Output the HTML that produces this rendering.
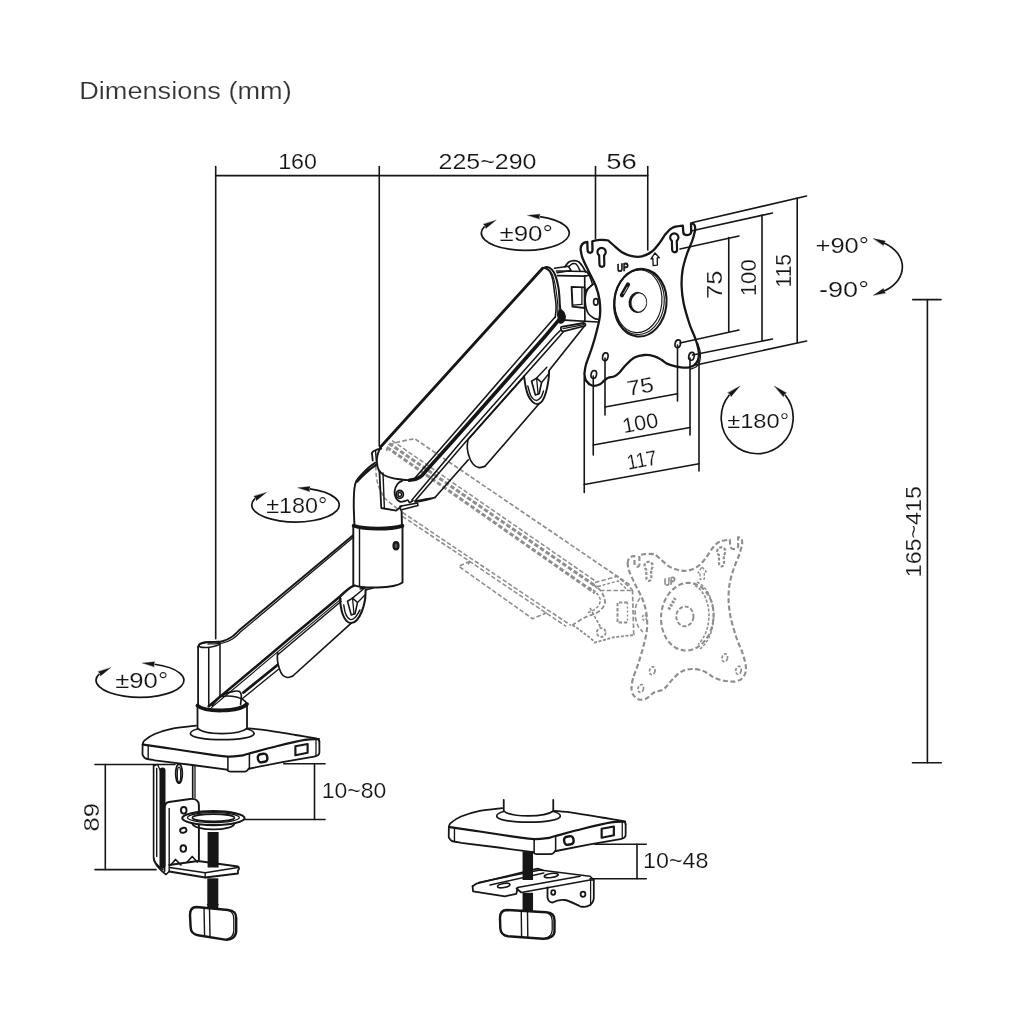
<!DOCTYPE html>
<html><head><meta charset="utf-8"><title>Dimensions (mm)</title>
<style>
html,body{margin:0;padding:0;background:#fff;}
body{width:1024px;height:1024px;overflow:hidden;font-family:"Liberation Sans",sans-serif;}
svg{display:block;will-change:transform;}
svg text{font-family:"Liberation Sans",sans-serif;fill:#141414;stroke:#fff;stroke-width:0.18px;paint-order:fill stroke;}
</style></head><body>
<svg width="1024" height="1024" viewBox="0 0 1024 1024" fill="none" stroke="#161616" stroke-linecap="round" stroke-linejoin="round">
<rect x="0" y="0" width="1024" height="1024" fill="#fff" stroke="none"/>
<g id="dims">
<text x="79.2" y="99" font-size="23.5" text-anchor="start" textLength="212.5" lengthAdjust="spacingAndGlyphs" style="fill:#333">Dimensions (mm)</text>
<path d="M215.6 175.6 L647.75 175.6" stroke-width="1.6" />
<path d="M215.7 166.5 L215.7 638.8" stroke-width="1.6" />
<path d="M379.25 166.5 L379.25 446" stroke-width="1.6" />
<path d="M595.5 166.5 L595.5 238.5" stroke-width="1.6" />
<path d="M647.75 166.5 L647.75 250" stroke-width="1.6" />
<text x="278.2" y="169.3" font-size="22.2" text-anchor="start" textLength="38.8" lengthAdjust="spacingAndGlyphs" >160</text>
<text x="438.5" y="169.3" font-size="22.2" text-anchor="start" textLength="98" lengthAdjust="spacingAndGlyphs" >225~290</text>
<text x="606.3" y="169.3" font-size="22.2" text-anchor="start" textLength="30.5" lengthAdjust="spacingAndGlyphs" >56</text>
<path d="M728.75 237.5 L728.75 331.5" stroke-width="1.6" />
<path d="M762 215 L762 340.5" stroke-width="1.6" />
<path d="M797.2 198 L797.2 342.6" stroke-width="1.6" />
<path d="M680 249 L739 236" stroke-width="1.6" />
<path d="M691 231 L772.5 213" stroke-width="1.6" />
<path d="M692.5 222.5 L806.5 196" stroke-width="1.6" />
<path d="M680 343 L739 330" stroke-width="1.6" />
<path d="M692.5 355 L772.5 339" stroke-width="1.6" />
<path d="M696 365 L806.6 341" stroke-width="1.6" />
<text x="722.3" y="284.7" font-size="22.2" text-anchor="middle" textLength="28.5" lengthAdjust="spacingAndGlyphs" transform="rotate(-90 722.3 284.7)" >75</text>
<text x="756" y="277.75" font-size="22.2" text-anchor="middle" textLength="37" lengthAdjust="spacingAndGlyphs" transform="rotate(-90 756 277.75)" >100</text>
<text x="791" y="270.75" font-size="22.2" text-anchor="middle" textLength="33.5" lengthAdjust="spacingAndGlyphs" transform="rotate(-90 791 270.75)" >115</text>
<path d="M584.25 377 L584.25 492.5" stroke-width="1.6" />
<path d="M593.25 376 L593.25 455" stroke-width="1.6" />
<path d="M605 358 L605 415" stroke-width="1.6" />
<path d="M677.5 345 L677.5 401" stroke-width="1.6" />
<path d="M690 358 L690 435" stroke-width="1.6" />
<path d="M699 360 L699 471" stroke-width="1.6" />
<path d="M605 407 L677.5 393.75" stroke-width="1.6" />
<path d="M593.25 445 L690 427.5" stroke-width="1.6" />
<path d="M584.25 484.5 L699 463.75" stroke-width="1.6" />
<text x="641.5" y="393.5" font-size="21" text-anchor="middle" textLength="27" lengthAdjust="spacingAndGlyphs" transform="rotate(-10.3 641.5 393.5)" >75</text>
<text x="641.5" y="430" font-size="21" text-anchor="middle" textLength="36" lengthAdjust="spacingAndGlyphs" transform="rotate(-10.3 641.5 430)" >100</text>
<text x="643" y="467" font-size="21" text-anchor="middle" textLength="30" lengthAdjust="spacingAndGlyphs" transform="rotate(-10.3 643 467)" >117</text>
<path d="M927.4 299.6 L927.4 762.7" stroke-width="1.6" />
<path d="M912.7 299.6 L941 299.6" stroke-width="1.6" />
<path d="M912.5 762.7 L941.3 762.7" stroke-width="1.6" />
<text x="921.4" y="531.7" font-size="22.2" text-anchor="middle" textLength="91" lengthAdjust="spacingAndGlyphs" transform="rotate(-90 921.4 531.7)" >165~415</text>
<path d="M95 764.5 L175 764.5" stroke-width="1.6" />
<path d="M95 869.6 L156 869.6" stroke-width="1.6" />
<path d="M105.3 764.5 L105.3 869.6" stroke-width="1.6" />
<text x="99" y="817.2" font-size="22.6" text-anchor="middle" textLength="28.5" lengthAdjust="spacingAndGlyphs" transform="rotate(-90 99 817.2)" >89</text>
<path d="M283.75 763.75 L325 763.75" stroke-width="1.6" />
<path d="M242.5 819.5 L325 819.5" stroke-width="1.6" />
<path d="M314.5 763.75 L314.5 819.5" stroke-width="1.6" />
<text x="321.8" y="797.5" font-size="21.4" text-anchor="start" textLength="64.5" lengthAdjust="spacingAndGlyphs" >10~80</text>
<path d="M595 844.25 L646.25 844.25" stroke-width="1.6" />
<path d="M590 878.75 L646.25 878.75" stroke-width="1.6" />
<path d="M637 844.25 L637 878.75" stroke-width="1.6" />
<text x="643" y="867.5" font-size="21.4" text-anchor="start" textLength="65.5" lengthAdjust="spacingAndGlyphs" >10~48</text>
<path d="M539.77 216.57 A44 17.4 0 1 1 484.65 226.34" stroke-width="1.7" fill="none" stroke-linecap="butt"/>
<path d="M527.77 215.32 L540.02 214.13 L539.17 216.51 L539.52 219 Z" fill="#161616" stroke="#161616" stroke-width="0.3"/>
<path d="M495.95 220.24 L485.81 228.5 L485.21 226.04 L483.49 224.19 Z" fill="#161616" stroke="#161616" stroke-width="0.3"/>
<text x="499.4" y="241.25" font-size="21.4" text-anchor="start" textLength="53.5" lengthAdjust="spacingAndGlyphs" >±90°</text>
<path d="M309.89 488.95 A43.75 17 0 1 1 255.08 498.49" stroke-width="1.7" fill="none" stroke-linecap="butt"/>
<path d="M297.89 487.7 L310.14 486.51 L309.29 488.88 L309.63 491.38 Z" fill="#161616" stroke="#161616" stroke-width="0.3"/>
<path d="M266.38 492.39 L256.24 500.65 L255.65 498.19 L253.92 496.34 Z" fill="#161616" stroke="#161616" stroke-width="0.3"/>
<text x="266.2" y="512.5" font-size="21.4" text-anchor="start" textLength="61.3" lengthAdjust="spacingAndGlyphs" >±180°</text>
<path d="M154.47 664.25 A44 17 0 1 1 99.35 673.79" stroke-width="1.7" fill="none" stroke-linecap="butt"/>
<path d="M142.47 663 L154.72 661.81 L153.87 664.18 L154.22 666.68 Z" fill="#161616" stroke="#161616" stroke-width="0.3"/>
<path d="M110.65 667.69 L100.51 675.95 L99.91 673.49 L98.19 671.64 Z" fill="#161616" stroke="#161616" stroke-width="0.3"/>
<text x="115.2" y="687.5" font-size="21.4" text-anchor="start" textLength="53" lengthAdjust="spacingAndGlyphs" >±90°</text>
<path d="M784.94 394.8 A36 36 0 1 1 729.46 394.8" stroke-width="1.7" fill="none" stroke-linecap="butt"/>
<path d="M774.38 386.11 L786.5 392.91 L784.41 394.37 L783.38 396.69 Z" fill="#161616" stroke="#161616" stroke-width="0.3"/>
<path d="M740.02 386.11 L731.02 396.69 L729.99 394.37 L727.9 392.91 Z" fill="#161616" stroke="#161616" stroke-width="0.3"/>
<text x="727.2" y="427.75" font-size="21" text-anchor="start" textLength="62" lengthAdjust="spacingAndGlyphs" >±180°</text>
<path d="M884 243 C908.5 254 908.5 280 884 291" stroke-width="1.7" fill="none" stroke-linecap="butt"/>
<path d="M873.4 238.6 L885.46 241.04 L883.95 243.06 L883.54 245.56 Z" fill="#161616" stroke="#161616" stroke-width="0.3"/>
<path d="M873.4 295.3 L883.56 288.44 L883.95 290.93 L885.44 292.96 Z" fill="#161616" stroke="#161616" stroke-width="0.3"/>
<text x="815.5" y="252.7" font-size="21.4" text-anchor="start" textLength="53.5" lengthAdjust="spacingAndGlyphs" >+90°</text>
<text x="819" y="297.3" font-size="21.4" text-anchor="start" textLength="50" lengthAdjust="spacingAndGlyphs" >-90°</text>
</g>
<g id="ghost" stroke="#8e8e8e" stroke-linecap="butt">
<path d="M386.5 451 C386.83 450.17 387.25 447.28 388.5 446 C389.75 444.72 391.75 444.1 394 443.3 C396.25 442.5 399.33 441.83 402 441.2 C404.67 440.57 407.83 439.88 410 439.5 C412.17 439.12 414.17 439 415 438.9 L630 585" stroke-width="1.69" fill="none" stroke-dasharray="4.5 2.2"/>
<path d="M392 440.6 L596 581.5" stroke-width="1.56" stroke-dasharray="4.5 2.2"/>
<path d="M389 443.4 L597.5 587.5" stroke-width="2.99" stroke-dasharray="4.6 2.2"/>
<path d="M387 447.4 L595 593" stroke-width="2.99" stroke-dasharray="4.6 2.2"/>
<path d="M375.8 466 C375.88 467.67 375.85 472.67 376.3 476 C376.75 479.33 377.3 482.58 378.5 486 C379.7 489.42 382.67 494.75 383.5 496.5" stroke-width="1.56" fill="none" stroke-dasharray="4.5 2.2"/>
<path d="M383.75 497.5 L398.75 510" stroke-width="1.56" stroke-dasharray="4.5 2.2"/>
<path d="M402.5 512.5 L571 625.5" stroke-width="1.56" stroke-dasharray="4.5 2.2"/>
<path d="M402.5 516.3 L566 626.3" stroke-width="1.56" stroke-dasharray="4.5 2.2"/>
<path d="M470 561.25 L458.75 566.25 L532.5 618.75 L547.5 612.5" stroke-width="1.56" fill="none" stroke-dasharray="4.5 2.2"/>
<path d="M470 561.25 L468 564.5" stroke-width="1.56" />
<path d="M592.5 583.75 C593.75 584.79 598.08 587.79 600 590 C601.92 592.21 603.23 594.58 604 597 C604.77 599.42 605.6 602 604.6 604.5 C603.6 607 601.27 609.83 598 612 C594.73 614.17 589.25 615.33 585 617.5 C580.75 619.67 574.58 623.75 572.5 625" stroke-width="1.82" fill="none" stroke-dasharray="4.5 2.2"/>
<path d="M589 587 C590.25 588 594.62 590.75 596.5 593 C598.38 595.25 600.38 597.92 600.3 600.5 C600.22 603.08 598.38 606.33 596 608.5 C593.62 610.67 587.67 612.67 586 613.5" stroke-width="1.56" fill="none" stroke-dasharray="3 1.8"/>
<path d="M572.5 625 L579 629.5 L585 634 L591 638.5 L595 642.5 L604 640 L612.5 637.5 L622 636.3 L635 635" stroke-width="1.82" fill="none" stroke-dasharray="3 1.6"/>
<ellipse cx="601.25" cy="632.5" rx="4.4" ry="4.4" stroke-width="1.82" fill="none" stroke-dasharray="3 1.6"/>
<path d="M590 608 L601 628" stroke-width="1.69" stroke-dasharray="3 1.6"/>
<path d="M595 582.5 L617.5 576.3 L632.5 590" stroke-width="1.69" fill="none" stroke-dasharray="4.5 2.2"/>
<path d="M598 586.5 L618 581 L628 590.5" stroke-width="1.43" fill="none" stroke-dasharray="3 1.8"/>
<path d="M600 590.5 L632.5 590.5" stroke-width="1.56" stroke-dasharray="4.5 2.2"/>
<path d="M632.5 590 L633.75 635" stroke-width="1.69" stroke-dasharray="4.5 2.2"/>
<path d="M627.5 602.5 L617.5 602.5 L617.5 622.5 L627.5 622.5" stroke-width="1.95" fill="none" stroke-dasharray="3.4 1.8"/>
<path d="M627.5 602.5 L627.5 622.5" stroke-width="1.43" stroke-dasharray="2 2"/>
<path d="M640 598 C639.33 599.33 636.78 603 636 606 C635.22 609 634.97 612.67 635.3 616 C635.63 619.33 636.72 623.33 638 626 C639.28 628.67 642.17 631 643 632" stroke-width="1.56" fill="none" stroke-dasharray="4.5 2.2"/>
<ellipse cx="644.5" cy="617.5" rx="2" ry="2.8" stroke-width="1.56" fill="none" stroke-dasharray="2.4 1.4"/>
</g>
<g id="ghostplate" transform="translate(47 314)" stroke="#8e8e8e" stroke-dasharray="5 2.6" stroke-linecap="butt">
<path d="M580.6 249.5 C580.6 245 583 242.3 587.3 242 L587.6 250.3 C587.8 253.6 592.3 253.6 592.5 250.3 L592.3 241.3 C596 240 604 239.3 608.3 240.5  C609.13 241.25 611.02 243.03 613.3 245 C615.58 246.97 618.88 250.43 622 252.3 C625.12 254.17 628.67 255.52 632 256.2 C635.33 256.88 638.67 257.18 642 256.4 C645.33 255.62 649.08 253.73 652 251.5 C654.92 249.27 657.2 245.95 659.5 243 C661.8 240.05 663.63 236.35 665.8 233.8 C667.97 231.25 669.67 229.05 672.5 227.7 C675.33 226.35 681.08 226.03 682.8 225.7 L683.3 232.3 C683.6 236 690.8 236 691.2 232 L691 223.4 C694 222.8 695.5 225.5 695.2 230  C694.75 231.67 693.93 235.83 692.5 240 C691.07 244.17 688.25 250 686.6 255 C684.95 260 683.43 264.83 682.6 270 C681.77 275.17 681.43 280.5 681.6 286 C681.77 291.5 682.28 296.67 683.6 303 C684.92 309.33 687.52 318 689.5 324 C691.48 330 693.95 334.33 695.5 339 C697.05 343.67 698.38 348.5 698.8 352 C699.22 355.5 698.8 357.78 698 360 C697.2 362.22 695.67 364.03 694 365.3 C692.33 366.57 689 367.22 688 367.6  C686.83 367.55 683.25 367.53 681 367.3 C678.75 367.07 676.83 366.82 674.5 366.2 C672.17 365.58 669.17 364.67 667 363.6 C664.83 362.53 663.58 361.02 661.5 359.8 C659.42 358.58 657.33 357.1 654.5 356.3 C651.67 355.5 647.83 354.78 644.5 355 C641.17 355.22 637.62 355.93 634.5 357.6 C631.38 359.27 628.3 362.52 625.8 365 C623.3 367.48 621.38 370.62 619.5 372.5 C617.62 374.38 616.37 375.42 614.5 376.3 C612.63 377.18 610 377.1 608.3 377.8 C606.6 378.5 605.77 379.38 604.3 380.5 C602.83 381.62 601.55 383.67 599.5 384.5 C597.45 385.33 594.25 386.17 592 385.5 C589.75 384.83 587.27 382.42 586 380.5 C584.73 378.58 584.67 375.08 584.4 374  C584.67 372.42 584.73 368.92 586 364.5 C587.27 360.08 590.17 353.25 592 347.5 C593.83 341.75 595.67 335.42 597 330 C598.33 324.58 599.58 320 600 315 C600.42 310 600.2 304.83 599.5 300 C598.8 295.17 597.63 290.83 595.8 286 C593.97 281.17 590.72 275.67 588.5 271 C586.28 266.33 583.82 261.58 582.5 258 C581.18 254.42 580.92 250.92 580.6 249.5Z" stroke-width="2.15" fill="none" />
<path d="M604.05 255.3 A4.15 4.15 0 1 0 599.15 255.3 L599.45 264.35 A2.45 2.45 0 0 0 604.35 264.35 Z" stroke-width="2.21" fill="none"  stroke-dasharray="3 1.6"/>
<path d="M676.75 240.8 A4.15 4.15 0 1 0 671.85 240.8 L672.15 249.85 A2.45 2.45 0 0 0 677.05 249.85 Z" stroke-width="2.21" fill="none"  stroke-dasharray="3 1.6"/>
<ellipse cx="593.8" cy="374.5" rx="2.7" ry="4" stroke-width="1.69" fill="none" transform="rotate(12 593.8 374.5)"  stroke-dasharray="3 1.6"/>
<ellipse cx="605.3" cy="356.8" rx="2.7" ry="4" stroke-width="1.69" fill="none" transform="rotate(12 605.3 356.8)"  stroke-dasharray="3 1.6"/>
<ellipse cx="677.8" cy="343.8" rx="2.7" ry="4" stroke-width="1.69" fill="none" transform="rotate(12 677.8 343.8)"  stroke-dasharray="3 1.6"/>
<ellipse cx="691.5" cy="356.3" rx="2.7" ry="4" stroke-width="1.69" fill="none" transform="rotate(12 691.5 356.3)"  stroke-dasharray="3 1.6"/>
<ellipse cx="640.3" cy="302.7" rx="26.2" ry="33.9" stroke-width="2.08" fill="none" transform="rotate(5.5 640.3 302.7)" />
<path d="M650 268 C670 277 673 319 653 335" stroke-width="1.56" fill="none" stroke-dasharray="3 1.6"/>
<path d="M648 271.5 C665 281 667 315 651 330.5" stroke-width="1.56" fill="none" stroke-dasharray="3 1.6"/>
<ellipse cx="637.9" cy="302.4" rx="8.6" ry="9.8" stroke-width="1.95" fill="none" transform="rotate(5.5 637.9 302.4)" stroke-dasharray="4 2"/>
<path d="M621.7 295.6 L628.25 284.1" stroke-width="3.12" stroke-dasharray="2.4 1.4"/>
<text x="617.6" y="272" font-size="11" font-weight="bold" font-style="italic" textLength="11.6" lengthAdjust="spacingAndGlyphs" transform="rotate(-9 617.6 272)" style="stroke:#8e8e8e;stroke-width:0.75px;fill:#8e8e8e">UP</text>
<path d="M655 253 L659.3 257.7 L657.2 258 L657.4 265.1 L653.1 265.6 L652.9 258.5 L651 258.8 Z" stroke-width="1.37" fill="none"  stroke-dasharray="3 1.6"/>
</g>
<g id="upperarm">
<path d="M542.6 268.2 L380.5 447" stroke-width="2.82" fill="none" />
<path d="M380.5 447 C380 448.33 378.1 452.42 377.5 455 C376.9 457.58 376.69 460 376.9 462.5 C377.11 465 377.61 467.92 378.75 470 C379.89 472.08 381.46 473.65 383.75 475 C386.04 476.35 389.79 477.4 392.5 478.1 C395.21 478.8 397.18 478.83 400 479.2 C402.82 479.57 407.83 480.12 409.4 480.3" stroke-width="1.92" fill="none" />
<path d="M409.4 480.3 C410.54 480.08 414.17 479.78 416.25 479 C418.33 478.22 420.23 477 421.9 475.6 C423.57 474.2 425.52 471.43 426.25 470.6 L453.75 440 L545.4 336 L558.3 320.6" stroke-width="3.58" fill="none" />
<path d="M415 478.1 L448.1 440 L538.5 336 L554.9 317.2" stroke-width="1.54" fill="none" />
<path d="M411.9 500 L462.5 440 L554.75 336 L560.3 330.5" stroke-width="1.54" fill="none" />
<path d="M415 501 L464 443.75 L559.75 336 L563.1 331.9" stroke-width="1.54" fill="none" />
<path d="M542.6 268.2 C543.37 268 545.65 266.77 547.2 267 C548.75 267.23 550.5 268.08 551.9 269.6 C553.3 271.12 554.52 273.13 555.6 276.1 C556.68 279.07 557.77 283.95 558.4 287.4 C559.03 290.85 559.17 293.98 559.4 296.8 C559.63 299.62 559.65 302.18 559.8 304.3 C559.95 306.42 560.22 308.63 560.3 309.5" stroke-width="2.05" fill="none" />
<path d="M546 268.6 C546.67 269.17 548.87 270.12 550 272 C551.13 273.88 552.1 276.87 552.8 279.9 C553.5 282.93 553.73 286.77 554.2 290.2 C554.67 293.63 555.28 297.53 555.6 300.5 C555.92 303.47 556.15 305.18 556.1 308 C556.05 310.82 555.43 315.83 555.3 317.4" stroke-width="1.54" fill="none" />
<path d="M544 268.3 C544.77 268.5 547.22 268.47 548.6 269.5 C549.98 270.53 551.3 272.42 552.3 274.5 C553.3 276.58 553.88 278.75 554.6 282 C555.32 285.25 556.07 290.17 556.6 294 C557.13 297.83 557.63 301.33 557.8 305 C557.97 308.67 557.63 314.17 557.6 316" stroke-width="1.15" fill="none" />
<path d="M559.4 309.9 C560.37 308.6 563.07 311.13 564 312.7 C564.93 314.27 565.45 317.58 565 319.3 C564.55 321.02 562.43 322.8 561.3 323 C560.17 323.2 558.52 322.68 558.2 320.5 C557.88 318.32 558.43 311.2 559.4 309.9Z" stroke-width="1.28" fill="#161616" />
<path d="M565 266.8 C565.63 266 567.23 263.03 568.8 262 C570.37 260.97 572.7 260.6 574.4 260.6 C576.1 260.6 577.6 260.97 579 262 C580.4 263.03 581.7 265.13 582.8 266.8 C583.9 268.47 585.13 271.13 585.6 272" stroke-width="1.79" fill="none" />
<path d="M568.8 266.6 C569.42 266.13 571.25 264.18 572.5 263.8 C573.75 263.42 575.05 263.18 576.3 264.3 C577.55 265.42 579.38 269.47 580 270.5" stroke-width="1.54" fill="none" />
<path d="M554.5 268.3 L568.5 266.3 L571 270.5 L557 272.8" stroke-width="1.54" fill="none" />
<path d="M557.5 275.6 L584.7 276.1 L589.4 275.3 L586.5 271.5 L556.5 271" stroke-width="1.66" fill="none" />
<path d="M584.7 276.1 L584.9 321.2" stroke-width="1.66" />
<path d="M565 320.2 L597.8 322" stroke-width="1.66" />
<path d="M589.4 275.3 L592.2 283.3" stroke-width="1.54" />
<path d="M584.8 291 L593.2 284.2" stroke-width="1.54" />
<path d="M593.1 284.1 C592.2 284.97 589 287.18 587.7 289.3 C586.4 291.42 585.63 294 585.3 296.8 C584.97 299.6 585.18 303.3 585.7 306.1 C586.22 308.9 587.02 311.57 588.4 313.6 C589.78 315.63 592.4 317.35 594 318.3 C595.6 319.25 597.33 319.13 598 319.3" stroke-width="1.66" fill="none" />
<ellipse cx="595.8" cy="301.9" rx="2.2" ry="3.2" stroke-width="1.66" fill="none" />
<path d="M571.6 286.9 L584.7 287.4 L584.7 308 L572.5 306.6Z" stroke-width="1.92" fill="none" />
<path d="M581.9 287.4 L581.9 304.3" stroke-width="1.28" />
<path d="M573 305.2 L581.9 304.3" stroke-width="1.28" />
<path d="M561.3 326.8 L583.6 323 C585.6 323 586 325.3 584.6 326 L563.4 331.4 C561 331.6 560.3 328 561.3 326.8Z" stroke-width="1.79" fill="none" />
<path d="M563 328.6 L584 324.6" stroke-width="1.15" />
<path d="M584.7 325.8 L549.1 370.6" stroke-width="1.66" />
<path d="M524.1 376.3 C524.33 377.92 524.85 382.88 525.5 386 C526.15 389.12 526.87 392.4 528 395 C529.13 397.6 530.75 400.08 532.3 401.6 C533.85 403.12 535.63 404.2 537.3 404.1 C538.97 404 540.85 402.97 542.3 401 C543.75 399.03 544.97 395.83 546 392.3 C547.03 388.77 547.98 383.35 548.5 379.8 C549.02 376.25 549 372.47 549.1 371" stroke-width="1.92" fill="none" />
<path d="M527.8 386 C528.33 387.67 529.63 393.6 531 396 C532.37 398.4 534.33 400.18 536 400.4 C537.67 400.62 539.75 398.87 541 397.3 C542.25 395.73 543.08 392.05 543.5 391" stroke-width="1.41" fill="none" />
<path d="M531.6 381.25 L536.6 378.1 L541.6 382.5 L539.1 393.75 L535.35 395 L531.6 381.25" stroke-width="1.66" fill="none" />
<path d="M536.6 378.1 L538.1 394" stroke-width="1.28" />
<path d="M536.6 378.1 L546.85 367.25" stroke-width="1.41" />
<path d="M541.6 382.5 L548.6 374" stroke-width="1.41" />
<path d="M524.1 376.6 L467.9 439.8" stroke-width="1.66" />
<path d="M467.9 439.8 C467.8 441.25 466.98 445.38 467.3 448.5 C467.62 451.62 468.77 455.83 469.8 458.5 C470.83 461.17 471.97 462.98 473.5 464.5 C475.03 466.02 477.08 467.3 479 467.6 C480.92 467.9 484 466.52 485 466.3" stroke-width="1.66" fill="none" />
<path d="M485 466.3 L539.5 403.3" stroke-width="1.66" />
<path d="M468.3 459.8 L435 497.5" stroke-width="1.66" />
<path d="M435 497.5 C428 500 421 501.6 415 502 L415.3 501 C421 500.3 428 498.6 435 497.5Z" stroke-width="1.66" fill="#161616" />
<path d="M402.5 480.6 C401.67 481.17 398.82 482.22 397.5 484 C396.18 485.78 394.85 488.97 394.6 491.3 C394.35 493.63 395.1 496.28 396 498 C396.9 499.72 398.58 501.05 400 501.6 C401.42 502.15 403.75 501.35 404.5 501.3" stroke-width="1.79" fill="none" />
<ellipse cx="399.75" cy="494.4" rx="3.6" ry="3.9" stroke-width="1.79" fill="none" />
<ellipse cx="399.75" cy="494.4" rx="1.8" ry="2" stroke-width="1.54" fill="none" />
<path d="M404.5 501.3 L408 500 L409.5 502.8 L413 500.5" stroke-width="1.54" fill="none" />
<path d="M400 506.3 L417.5 503 L418 505.6 L400.6 510Z" stroke-width="1.54" fill="none" />
</g>
<g id="lowerarm">
<path d="M354.3 534.3 L240 629.5  C238.54 630.8 234.17 635.34 231.25 637.3 C228.33 639.26 225.21 640.48 222.5 641.25 C219.79 642.02 217.92 641.73 215 641.9 C212.08 642.07 207.5 641.94 205 642.25 C202.5 642.56 201.15 642.98 200 643.75 C198.85 644.52 198.42 646.38 198.1 646.9" stroke-width="1.92" fill="none" />
<path d="M354.3 536.6 L241 631.6  C239.5 632.88 235 637.4 232 639.3 C229 641.2 225.83 642.25 223 643 C220.17 643.75 217.5 643.63 215 643.8 C212.5 643.97 209.17 643.97 208 644" stroke-width="1.28" fill="none" />
<path d="M198.1 646.9 L198.1 706" stroke-width="1.79" />
<path d="M208.75 648 L208.75 706.5" stroke-width="1.54" />
<path d="M220 644 L220 696.5" stroke-width="1.54" />
<ellipse cx="209.4" cy="644.6" rx="10.4" ry="2.6" stroke-width="1.41" fill="none" transform="rotate(-7 209.4 644.6)" />
<path d="M208.75 706.25 L290 638.1 L340 596.5 C345 591.5 349 587.5 354 585.6" stroke-width="2.56" fill="none" />
<path d="M211.5 707.5 L290 641.6 L341.25 598.9" stroke-width="1.15" fill="none" />
<path d="M278 654.5 L341.25 601.25" stroke-width="1.54" fill="none" />
<path d="M277.6 652.5 C277.57 653.75 277.1 657.29 277.4 660 C277.7 662.71 278.55 666.25 279.4 668.75 C280.25 671.25 281.15 673.54 282.5 675 C283.85 676.46 285.83 677.29 287.5 677.5 C289.17 677.71 291.67 676.46 292.5 676.25" stroke-width="1.66" fill="none" />
<path d="M292.5 676.25 L351.25 623.1" stroke-width="1.66" />
<path d="M340 596.9 C340.1 598.25 340.18 602.19 340.6 605 C341.02 607.81 341.56 611.15 342.5 613.75 C343.44 616.35 344.79 619.04 346.25 620.6 C347.71 622.16 349.48 623.2 351.25 623.1 C353.02 623 355.12 621.98 356.9 620 C358.67 618.02 360.55 614.58 361.9 611.25 C363.25 607.92 364.38 603.54 365 600 C365.62 596.46 365.5 591.67 365.6 590" stroke-width="2.05" fill="none" />
<path d="M343.75 605 C344.06 606.46 344.56 611.35 345.6 613.75 C346.64 616.15 348.43 618.77 350 619.4 C351.57 620.02 353.33 619.07 355 617.5 C356.67 615.93 359.17 611.25 360 610" stroke-width="1.41" fill="none" />
<path d="M347.5 601.25 L352.5 598.1 L357.5 602.5 L355 613.75 L351.25 615 L347.5 601.25" stroke-width="1.54" fill="none" />
<path d="M352.5 598.1 L354 614" stroke-width="1.28" />
<path d="M352.5 598.1 L363.75 588.75" stroke-width="1.41" />
<path d="M357.5 602.5 L365 595" stroke-width="1.41" />
<path d="M277.5 665 L243.5 692.5" stroke-width="2.82" />
<path d="M278.5 669.3 L242.5 698.5" stroke-width="1.41" />
<path d="M212 705.5 C213.43 703.96 217.39 698.52 220.6 696.25 C223.81 693.98 228.22 692.73 231.25 691.9 C234.28 691.07 237.08 690.73 238.75 691.25 C240.42 691.77 240.94 692.79 241.25 695 C241.56 697.21 240.71 702.92 240.6 704.5" stroke-width="1.66" fill="none" />
<path d="M365.6 590 L373 588" stroke-width="1.54" />
<path d="M360 589 L367.5 587.6" stroke-width="1.28" />
<path d="M353.3 527 L353.3 584.8 C361 588.6 394 589 402.5 582.6 L402.5 527" stroke-width="1.92" fill="#fff" />
<path d="M359.5 529 L359.5 586.3" stroke-width="1.41" />
<path d="M353.7 525.8 C365 529.6 390 529.6 402.4 525.8" stroke-width="3.84" fill="none" />
<ellipse cx="396" cy="545.7" rx="2.5" ry="3.6" stroke-width="2.18" fill="#555" />
<path d="M354.4 524 C354.29 520.83 353.75 510.88 353.75 505 C353.75 499.12 353.98 492.71 354.4 488.75 C354.82 484.79 355.11 483.54 356.25 481.25 C357.39 478.96 359.17 477.29 361.25 475 C363.33 472.71 366.36 469.58 368.75 467.5 C371.14 465.42 374.46 463.33 375.6 462.5" stroke-width="1.92" fill="none" />
<path d="M357.3 481.5 C358.08 480.67 360.05 478.42 362 476.5 C363.95 474.58 366.67 471.92 369 470 C371.33 468.08 374.83 465.83 376 465" stroke-width="2.3" fill="none" />
<path d="M401.6 511.3 L401.9 524" stroke-width="1.92" />
<path d="M372.75 460.6 L371.9 453.1 L373.3 451.2 L377.5 449.4 L381.25 448.6" stroke-width="1.79" fill="none" />
<path d="M375.6 451.5 L376.3 460.5" stroke-width="1.41" />
<path d="M379.4 471.3 L381.25 508 L396.25 510.6 L401.4 506.3" stroke-width="1.79" fill="none" />
<path d="M383 473 L384.4 508.6" stroke-width="1.41" />
</g>
<defs><g id="baseplate">
<path d="M142.6 744.4 C142.93 743.73 142.57 742.13 144.6 740.4 C146.62 738.67 149.93 736 154.75 734 C159.57 732 166.62 729.8 173.5 728.4 C180.38 727 192.25 726.07 196 725.6" stroke-width="1.79" fill="none" />
<path d="M248.5 728.4 C251.62 728.72 259.43 729.2 267.25 730.3 C275.07 731.4 287.27 733.65 295.4 735 C303.52 736.35 312 737.3 316 738.4 C320 739.5 318.83 741.07 319.4 741.6" stroke-width="1.79" fill="none" />
<path d="M143.5 744.6 C148.5 745.33 162.25 747.32 173.5 749 C184.75 750.68 201.93 753.43 211 754.7 C220.07 755.97 222.9 756.45 227.9 756.6 C232.9 756.75 237.57 756.08 241 755.6 C244.43 755.12 242.57 755.31 248.5 753.75 C254.43 752.19 267.23 748.56 276.6 746.25 C285.98 743.94 297.72 741.09 304.75 739.9 C311.78 738.71 316.46 739.23 318.8 739.1" stroke-width="2.18" fill="none" />
<path d="M142.6 744.4 L142.5 754.7 C142.98 755.32 143.36 757.47 145.4 758.4 C147.44 759.33 153.19 759.98 154.75 760.3 L192.25 765 L227 769.7" stroke-width="1.79" fill="none" />
<path d="M227 769.7 C228 771 229 771.6 230.5 771.6 L244.5 771.6 C246.5 771.6 247.8 770.3 248.5 768.75 L282.25 762.2 L314.1 756.6 C317.5 756 319.4 755 319.4 752.5 L319.4 741.6" stroke-width="1.79" fill="none" />
<path d="M227.9 756.6 L227.9 769.7" stroke-width="1.54" />
<path d="M249.4 753.75 L249.4 768.75" stroke-width="1.54" />
<path d="M148.2 745.5 L148.2 758.8" stroke-width="1.41" />
<path d="M316 739.3 L316 755.8" stroke-width="1.28" />
<rect x="257.9" y="753.9" width="9.4" height="8.2" rx="3.2" transform="rotate(-9 262.6 758)" stroke-width="2.43"/>
<path d="M295.4 746.25 L307.6 744 L307.6 752.8 L295.4 755.25Z" stroke-width="2.18" fill="none" />
<path d="M190.4 733.5 C190.4 741.7 254.1 741.7 254.1 733.5" stroke-width="1.66" fill="none" />
<path d="M190.4 733.5 C190.6 731.5 193.5 730 197.5 729" stroke-width="1.41" fill="none" />
<path d="M254.1 733.5 C253.9 731.5 251 730 247 729" stroke-width="1.41" fill="none" />
</g></defs>
<g id="base1">
<use href="#baseplate"/>
<path d="M197.5 706 L197.5 728.4 C205 735.3 239 735.3 247 728.4 L247 704" stroke-width="1.79" fill="none" />
<path d="M197.5 705.6 C205 712.3 239 712.3 247 704.2" stroke-width="3.84" fill="none" />
<path d="M220 696.5 C232 694.6 243 697.5 247 703.5" stroke-width="1.54" fill="none" />
<path d="M153.6 765.5 L153.6 858 C153.6 862 158 866 162.5 869.5" stroke-width="1.66" fill="none" />
<path d="M156.7 768.5 L156.7 856.5" stroke-width="1.41" fill="none" />
<path d="M162.5 770.5 L162.5 865.5" stroke-width="6.02" />
<path d="M153.6 765.8 L157.5 764.3 L160 770" stroke-width="1.28" fill="none" />
<path d="M192.7 765.8 L192.7 798.5" stroke-width="1.66" />
<path d="M195 766.2 L195 798" stroke-width="1.28" />
<ellipse cx="179" cy="773.6" rx="3.3" ry="9.6" stroke-width="1.79" fill="none" />
<ellipse cx="179" cy="774.6" rx="1.7" ry="7.5" stroke-width="1.28" fill="none" />
<path d="M164.5 871 L164.5 808 C164.5 804.5 166.5 802.5 169 802 L190 799 C196 798.3 198.9 801 198.9 805 L198.9 860" stroke-width="1.92" fill="none" />
<path d="M169.2 808.5 L169.2 871.5" stroke-width="1.41" />
<ellipse cx="183.75" cy="810.3" rx="2.8" ry="3.3" stroke-width="1.92" fill="none" />
<ellipse cx="183.3" cy="830.3" rx="3.2" ry="2.4" stroke-width="1.92" fill="none" transform="rotate(-15 183.3 830.3)" />
<ellipse cx="183.3" cy="848.6" rx="2.8" ry="3.3" stroke-width="1.92" fill="none" />
<path d="M170.8 865 L175.5 859.5 L181 865" stroke-width="1.66" fill="none" />
<path d="M187.2 862 L192.2 856.5 L197.3 862" stroke-width="1.66" fill="none" />
<path d="M169.2 865 L198 861 L238 866.5 C239.5 867 239.3 869.5 238 870.5 L238 873.5 L205.2 877.5 L169.2 871.5" stroke-width="1.79" fill="none" />
<path d="M169.6 867.5 L205.2 872.8 L238 867.5" stroke-width="1.41" fill="none" />
<path d="M205.2 872.8 L205.2 877.8" stroke-width="1.41" />
<path d="M153.8 858 C154 864 160 870 166 874.5 L169.2 871.5" stroke-width="1.66" fill="none" />
<ellipse cx="213.4" cy="818.1" rx="31.2" ry="7" stroke-width="2.05" fill="#fff" />
<ellipse cx="213.4" cy="817.6" rx="26" ry="5" stroke-width="1.28" fill="none" />
<ellipse cx="213.4" cy="817.8" rx="21" ry="3.6" stroke-width="1.66" fill="none" />
<path d="M192.3 823.3 C193 831.5 234 831.5 234.5 823.3" stroke-width="1.79" fill="none" />
<path d="M213.1 832 L213.1 867.5" stroke-width="11.01" stroke-linecap="butt"/>
<path d="M212.8 878.3 L212.8 909" stroke-width="11.01" stroke-linecap="butt"/>
<path d="M196.5 907 C191.5 907 190 911 190 915 L190.6 927 C190.8 932.5 193.5 934.5 198 935.3 L225 939.6 C231.5 940.3 236 937 236.2 931 L236.2 918 C236.2 912.5 233.5 910.6 228 910 Z" stroke-width="2.43" fill="#fff" />
<path d="M204 908 L204.6 936.3" stroke-width="1.41" />
<path d="M209.5 908.5 L210 937.2" stroke-width="1.41" />
<path d="M229.5 911 C233 912.5 233.8 915 233.8 919 L233.8 930.5 C233.6 935.5 231 938 227 939" stroke-width="1.28" fill="none" />
<path d="M207.5 904.5 L218 904.5" stroke-width="1.54" />
</g>
<g id="base2">
<use href="#baseplate" transform="translate(306.25 82.5)"/>
<path d="M503.75 800 L503.75 811" stroke-width="1.79" />
<path d="M553.25 800 L553.25 811" stroke-width="1.79" />
<path d="M503.75 811 C511 817.6 545 817.6 553.25 811" stroke-width="1.66" fill="none" />
<path d="M527.8 851.5 L527.8 880" stroke-width="10.5" stroke-linecap="butt"/>
<path d="M472.6 886.2 L476.3 883.7 L537.5 868.7 L542.5 870" stroke-width="1.79" fill="none" />
<path d="M472.6 886.2 L473 891.3 L505 896.3 L516.3 893.8 L517.5 888.8" stroke-width="1.79" fill="none" />
<path d="M478.8 882.5 L540 870 L590 876.3 L593.5 879.5" stroke-width="1.54" fill="none" />
<path d="M490 885 L543.8 873" stroke-width="1.41" fill="none" />
<path d="M517.5 887.5 L580 876.3" stroke-width="1.66" fill="none" />
<path d="M516.5 888.5 L521.3 892.5 L590 880 L593.8 880" stroke-width="1.66" fill="none" />
<ellipse cx="503.75" cy="885.5" rx="6.2" ry="2" stroke-width="1.66" fill="none" transform="rotate(-10 503.75 885.5)" />
<ellipse cx="551.25" cy="875.5" rx="7" ry="2" stroke-width="1.66" fill="none" transform="rotate(-8 551.25 875.5)" />
<path d="M547.5 887.5 L547.5 897.5 C548 901 550.5 902.6 552.5 902.5 C557 900 561 899.5 565 900 C570 901 575 904 580 906.3 C584 907.2 588 906.5 590 905 C592.5 903 593.8 900 593.8 897.5 L593.8 880" stroke-width="1.79" fill="none" />
<path d="M590.6 880.5 L590.6 905" stroke-width="1.28" />
<ellipse cx="553.25" cy="892.5" rx="2" ry="2.3" stroke-width="1.79" fill="none" />
<ellipse cx="583" cy="894.3" rx="2.4" ry="2.6" stroke-width="1.79" fill="none" />
<path d="M527.8 892.8 L527.8 913" stroke-width="10.5" stroke-linecap="butt"/>
<path d="M507 910 C501.5 910 500 914 500 918 L500.3 928 C500.5 933 503.5 935.6 508 936.3 L543 938.8 C550 939 554.5 936 554.5 931 L554.5 920 C554.5 914.5 551 912.6 546 912.3 Z" stroke-width="2.43" fill="#fff" />
<path d="M521.25 910.5 L521.6 937" stroke-width="1.41" />
<path d="M527.5 911 L527.8 937.5" stroke-width="1.41" />
<path d="M548 913.3 C551.5 914.5 552.2 917 552.2 921 L552.2 930 C552 934.5 549.5 937 545.5 938" stroke-width="1.28" fill="none" />
</g>
<g id="plate">
<path d="M580.6 249.5 C580.6 245 583 242.3 587.3 242 L587.6 250.3 C587.8 253.6 592.3 253.6 592.5 250.3 L592.3 241.3 C596 240 604 239.3 608.3 240.5  C609.13 241.25 611.02 243.03 613.3 245 C615.58 246.97 618.88 250.43 622 252.3 C625.12 254.17 628.67 255.52 632 256.2 C635.33 256.88 638.67 257.18 642 256.4 C645.33 255.62 649.08 253.73 652 251.5 C654.92 249.27 657.2 245.95 659.5 243 C661.8 240.05 663.63 236.35 665.8 233.8 C667.97 231.25 669.67 229.05 672.5 227.7 C675.33 226.35 681.08 226.03 682.8 225.7 L683.3 232.3 C683.6 236 690.8 236 691.2 232 L691 223.4 C694 222.8 695.5 225.5 695.2 230  C694.75 231.67 693.93 235.83 692.5 240 C691.07 244.17 688.25 250 686.6 255 C684.95 260 683.43 264.83 682.6 270 C681.77 275.17 681.43 280.5 681.6 286 C681.77 291.5 682.28 296.67 683.6 303 C684.92 309.33 687.52 318 689.5 324 C691.48 330 693.95 334.33 695.5 339 C697.05 343.67 698.38 348.5 698.8 352 C699.22 355.5 698.8 357.78 698 360 C697.2 362.22 695.67 364.03 694 365.3 C692.33 366.57 689 367.22 688 367.6  C686.83 367.55 683.25 367.53 681 367.3 C678.75 367.07 676.83 366.82 674.5 366.2 C672.17 365.58 669.17 364.67 667 363.6 C664.83 362.53 663.58 361.02 661.5 359.8 C659.42 358.58 657.33 357.1 654.5 356.3 C651.67 355.5 647.83 354.78 644.5 355 C641.17 355.22 637.62 355.93 634.5 357.6 C631.38 359.27 628.3 362.52 625.8 365 C623.3 367.48 621.38 370.62 619.5 372.5 C617.62 374.38 616.37 375.42 614.5 376.3 C612.63 377.18 610 377.1 608.3 377.8 C606.6 378.5 605.77 379.38 604.3 380.5 C602.83 381.62 601.55 383.67 599.5 384.5 C597.45 385.33 594.25 386.17 592 385.5 C589.75 384.83 587.27 382.42 586 380.5 C584.73 378.58 584.67 375.08 584.4 374  C584.67 372.42 584.73 368.92 586 364.5 C587.27 360.08 590.17 353.25 592 347.5 C593.83 341.75 595.67 335.42 597 330 C598.33 324.58 599.58 320 600 315 C600.42 310 600.2 304.83 599.5 300 C598.8 295.17 597.63 290.83 595.8 286 C593.97 281.17 590.72 275.67 588.5 271 C586.28 266.33 583.82 261.58 582.5 258 C581.18 254.42 580.92 250.92 580.6 249.5Z" stroke-width="2.3" fill="none" />
<path d="M697.6 343 C698.05 344.5 699.93 349 700.3 352 C700.67 355 700.47 358.53 699.8 361 C699.13 363.47 697.93 365.43 696.3 366.8 C694.67 368.17 691.05 368.8 690 369.2" stroke-width="1.15" fill="none" />
<path d="M604.05 255.3 A4.15 4.15 0 1 0 599.15 255.3 L599.45 264.35 A2.45 2.45 0 0 0 604.35 264.35 Z" stroke-width="2.18" fill="none" />
<path d="M676.75 240.8 A4.15 4.15 0 1 0 671.85 240.8 L672.15 249.85 A2.45 2.45 0 0 0 677.05 249.85 Z" stroke-width="2.18" fill="none" />
<ellipse cx="593.8" cy="374.5" rx="2.7" ry="4" stroke-width="1.66" fill="none" transform="rotate(12 593.8 374.5)" />
<ellipse cx="605.3" cy="356.8" rx="2.7" ry="4" stroke-width="1.66" fill="none" transform="rotate(12 605.3 356.8)" />
<ellipse cx="677.8" cy="343.8" rx="2.7" ry="4" stroke-width="1.66" fill="none" transform="rotate(12 677.8 343.8)" />
<ellipse cx="691.5" cy="356.3" rx="2.7" ry="4" stroke-width="1.66" fill="none" transform="rotate(12 691.5 356.3)" />
<ellipse cx="640.3" cy="302.7" rx="26.2" ry="33.9" stroke-width="2.05" fill="none" transform="rotate(5.5 640.3 302.7)" />
<ellipse cx="639.3" cy="301.9" rx="24.9" ry="32.7" stroke-width="1.15" fill="none" transform="rotate(5.5 639.3 301.9)" />
<ellipse cx="638.4" cy="301.3" rx="23.5" ry="31.4" stroke-width="1.15" fill="none" transform="rotate(5.5 638.4 301.3)" />
<ellipse cx="637.9" cy="302.4" rx="8.6" ry="9.8" stroke-width="1.54" fill="#161616" transform="rotate(5.5 637.9 302.4)" />
<ellipse cx="638.9" cy="302.5" rx="7" ry="8.7" stroke-width="0.77" fill="#fff" transform="rotate(5.5 638.9 302.5)" stroke="#fff"/>
<path d="M621.9 295.2 L628 284.5" stroke-width="4.22" />
<path d="M623.6 293.6 L627.3 287.2" stroke-width="0.7" stroke="#fff"/>
<text x="617.6" y="272" font-size="11" font-weight="bold" font-style="italic" textLength="11.6" lengthAdjust="spacingAndGlyphs" transform="rotate(-9 617.6 272)" style="stroke:#161616;stroke-width:0.75px;fill:#161616">UP</text>
<path d="M655 253 L659.3 257.7 L657.2 258 L657.4 265.1 L653.1 265.6 L652.9 258.5 L651 258.8 Z" stroke-width="1.34" fill="none" />
</g>
</svg>
</body></html>
